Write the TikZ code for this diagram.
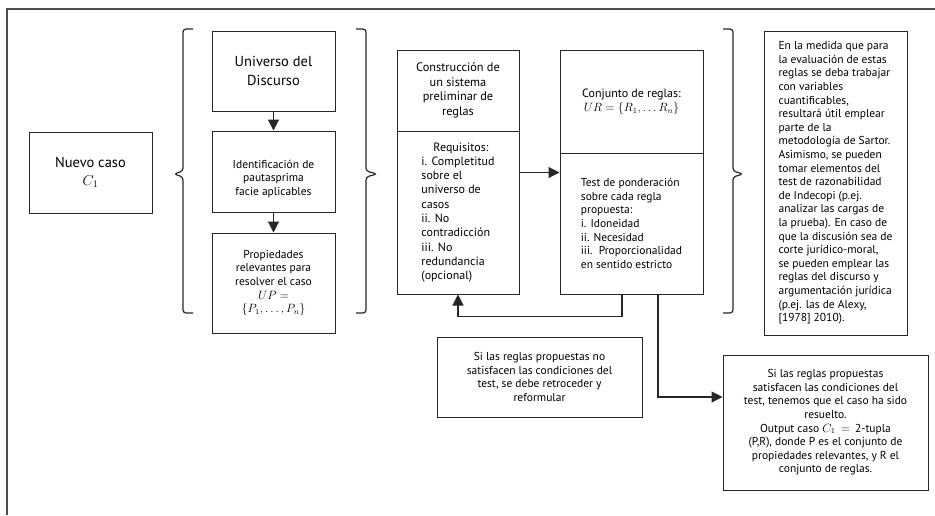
\documentclass[tikz,border=0pt]{standalone}
\usepackage{fontspec}
\setmainfont{PT Sans}
\usepackage{amsmath}
\usetikzlibrary{positioning,calc,arrows.meta}

\begin{document}
\begin{tikzpicture}[x=1pt, y=-1pt,
    box/.style={draw=black!85, line width=1pt, rectangle, align=center, inner sep=3pt, font=\fontsize{11.5}{13.6}\selectfont},
    bigbox/.style={box, font=\fontsize{14.5}{18.5}\selectfont},
    midbox/.style={box, font=\fontsize{12.3}{14.6}\selectfont},
    arr/.style={draw=black!85, line width=1.1pt, -{Triangle[length=11pt,width=11pt]}},
    llave/.style={draw=black!85, line width=1.2pt, rounded corners=3pt}]
    \useasboundingbox (0,0) rectangle (935,515);

    % Frame
    \draw[gray!60!black, line width=1.6pt] (7,515) -- (7,9) -- (935,9);

    % New case
    \node [bigbox, minimum width=123pt, minimum height=81pt] (nuevo) at (90.5,172.5) {Nuevo caso\\ $C_1$};

    % First group
    \draw[llave] (193,29) -- (183,29) -- (183,171) -- (174,174) -- (183,177) -- (183,313) -- (193,313);
    \node [bigbox, minimum width=123pt, minimum height=80pt] (universo) at (273.5,71) {Universo del\\ Discurso};
    \node [box, minimum width=123pt, minimum height=81pt, text height=50pt] (ident) at (273.5,171.5) {Identificación de\\ pautasprima\\ facie aplicables};
    \node [box, minimum width=123pt, minimum height=100pt] (prop) at (273.5,283) {Propiedades\\ relevantes para\\ resolver el caso\\ $UP =$\\ $\{P_1,\ldots,P_n\}$};
    \draw[llave] (356,29) -- (366,29) -- (366,171) -- (377,174) -- (366,177) -- (366,313) -- (356,313);

    \draw[arr] (universo) -- (ident);
    \draw[arr] (ident) -- (prop);

    % Rule system
    \node [midbox, minimum width=122pt, minimum height=81pt] (constr) at (458,90.5) {Construcción de\\ un sistema\\ preliminar de\\ reglas};
    \node [box, font=\fontsize{12}{14.3}\selectfont, align=left, minimum width=122pt, minimum height=163pt] (requis) at (458,212.5)
        {\hspace*{1em}Requisitos:\\ i. Completitud\\ sobre el\\ universo de\\ casos\\ ii. No\\ contradicción\\ iii. No\\ redundancia\\ (opcional)};

    \node [box, font=\fontsize{12}{14.3}\selectfont, minimum width=143pt, minimum height=103pt] (conj) at (631.5,101.5) {Conjunto de reglas:\\ $UR = \{R_1,\ldots R_n\}$};
    \node [box, align=left, minimum width=143pt, minimum height=141pt] (test) at (631.5,223.5)
        {Test de ponderación\\ sobre cada regla\\ propuesta:\\ i. Idoneidad\\ ii. Necesidad\\ iii.\ \ Proporcionalidad\\ en sentido estricto};

    \draw[arr] (requis.north east) ++(0,42) coordinate (req) -- (req -| test.west);
    \draw[arr] ([xshift=-9.5pt]test.south) -- ++(0,22) -| (requis.south);

    % Second group
    \draw[llave] (723,29) -- (733,29) -- (733,171) -- (743,174) -- (733,177) -- (733,313) -- (723,313);
    \node [box, align=left, minimum width=143pt, minimum height=304pt] (nota) at (835.5,183)
        {En la medida que para\\ la evaluación de estas\\ reglas se deba trabajar\\ con variables\\ cuantificables,\\ resultará útil emplear\\ parte de la\\ metodología de Sartor.\\ Asimismo, se pueden\\ tomar elementos del\\ test de razonabilidad\\ de Indecopi (p.ej.\\ analizar las cargas de\\ la prueba). En caso de\\ que la discusión sea de\\ corte jurídico-moral,\\ se pueden emplear las\\ reglas del discurso y\\ argumentación jurídica\\ (p.ej. las de Alexy,\\ {[1978] 2010).}};

    % Outcomes
    \node [box, minimum width=205pt, minimum height=80pt] (sino) at (539.5,377)
        {Si las reglas propuestas no\\ satisfacen las condiciones del\\ test, se debe retroceder y\\ reformular};
    \node [box, minimum width=205pt, minimum height=135pt] (sisi) at (825.5,422.5)
        {Si las reglas propuestas\\ satisfacen las condiciones del\\ test, tenemos que el caso ha sido\\ resuelto.\\ Output caso $C_1\,=\,$ 2-tupla\\ (P,R), donde P es el conjunto de\\ propiedades relevantes, y R el\\ conjunto de reglas.};

    \draw[arr] ([xshift=26.5pt]test.south) |- ([yshift=25.5pt]sisi.west);

\end{tikzpicture}
\end{document}
